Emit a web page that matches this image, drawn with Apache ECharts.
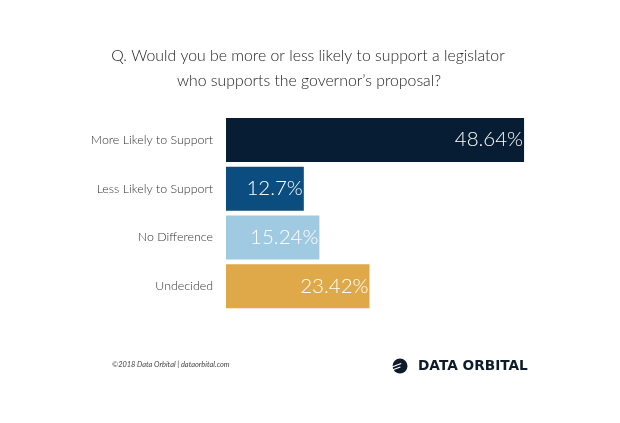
<!DOCTYPE html>
<html><head><meta charset="utf-8">
<script src="https://cdn.jsdelivr.net/npm/echarts@6/dist/echarts.min.js"></script>
<style>html,body{margin:0;padding:0;background:#fff}#c{width:620px;height:423px}</style>
</head><body><div id="c"></div>
<script>
var categories = ['More Likely to Support', 'Less Likely to Support', 'No Difference', 'Undecided'];
var values = [48.64, 12.7, 15.24, 23.42];
var labels = ['48.64%', '12.7%', '15.24%', '23.42%'];
var colors = ['#061d33', '#0b4d7f', '#9fcae2', '#dfa94a'];
var titleLines = ['Q. Would you be more or less likely to support a legislator', 'who supports the governor\u2019s proposal?'];

var chart = echarts.init(document.getElementById('c'));
chart.setOption({
  backgroundColor: '#ffffff',
  animation: false,
  grid: { left: 226, width: 306.4, top: 115.5, height: 195 },
  xAxis: { type: 'value', min: 0, max: 50, show: false },
  yAxis: {
    type: 'category', inverse: true, data: categories,
    axisLine: { show: false }, axisTick: { show: false },
    axisLabel: { margin: 13, fontFamily: 'Lato', fontWeight: 300, fontSize: 12.4, color: '#333' }
  },
  series: [{
    type: 'bar', barWidth: 44,
    data: values.map(function (v, i) { return { value: v, itemStyle: { color: colors[i] } }; }),
    label: {
      show: true, position: 'insideRight', distance: 1,
      formatter: function (p) { return labels[p.dataIndex]; },
      fontFamily: 'Lato', fontWeight: 300, fontSize: 20.5, color: '#fff'
    }
  }],
  graphic: [
    { type: 'text', x: 308, y: 56, style: { text: titleLines[0], align: 'center', verticalAlign: 'middle', fontFamily: 'Lato', fontWeight: 300, fontSize: 15.8, fill: '#222' } },
    { type: 'text', x: 309, y: 81, style: { text: titleLines[1], align: 'center', verticalAlign: 'middle', fontFamily: 'Lato', fontWeight: 300, fontSize: 15.8, fill: '#222' } },
    { type: 'text', x: 112, y: 365, style: { text: '\u00a92018 Data Orbital | dataorbital.com', verticalAlign: 'middle', fontFamily: 'Lato', fontStyle: 'italic', fontSize: 7.4, fill: '#444' } },
    { type: 'circle', shape: { cx: 400, cy: 366, r: 7.5 }, style: { fill: '#0e1b2a' } },
    { type: 'rect', shape: { x: 392, y: 363.5, width: 10, height: 1.2 }, rotation: 0.35, originX: 400, originY: 366, style: { fill: '#fff' } },
    { type: 'rect', shape: { x: 392, y: 366.5, width: 8, height: 1.2 }, rotation: 0.35, originX: 400, originY: 366, style: { fill: '#fff' } },
    { type: 'text', x: 418, y: 366, style: { text: 'DATA ORBITAL', verticalAlign: 'middle', fontFamily: 'DejaVu Sans', fontWeight: 'bold', fontSize: 13.7, fill: '#0e1b2a' } }
  ]
});
</script></body></html>
